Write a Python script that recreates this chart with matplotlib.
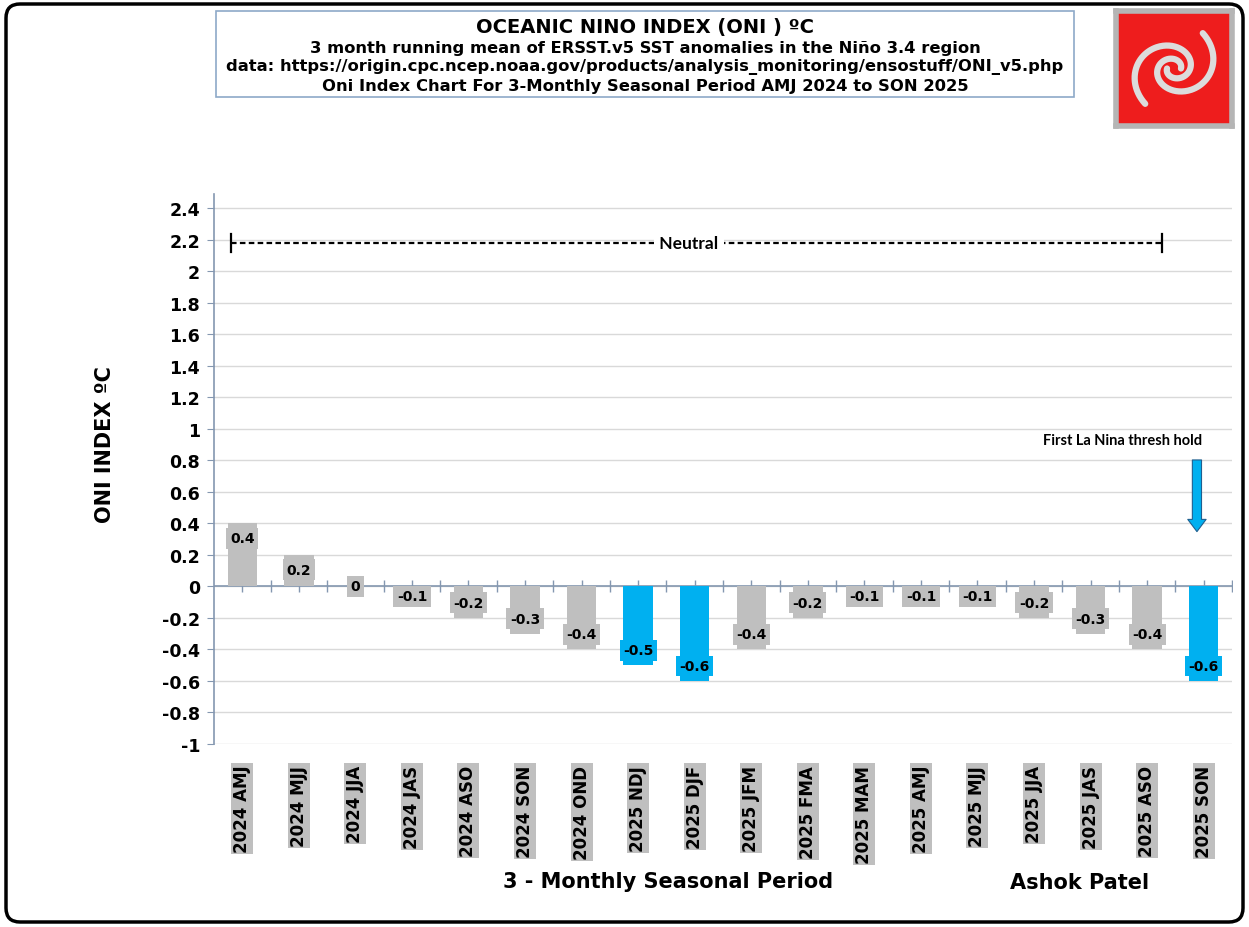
import numpy as np
import matplotlib.pyplot as plt
from matplotlib.patches import Rectangle, FancyBboxPatch

# data
seasons = ['2024 AMJ', '2024 MJJ', '2024 JJA', '2024 JAS', '2024 ASO', '2024 SON',
           '2024 OND', '2025 NDJ', '2025 DJF', '2025 JFM', '2025 FMA', '2025 MAM',
           '2025 AMJ', '2025 MJJ', '2025 JJA', '2025 JAS', '2025 ASO', '2025 SON']
oni = [0.4, 0.2, 0.0, -0.1, -0.2, -0.3, -0.4, -0.5, -0.6, -0.4, -0.2, -0.1,
       -0.1, -0.1, -0.2, -0.3, -0.4, -0.6]
highlight = ['2025 NDJ', '2025 DJF', '2025 SON']
neutral_level = 2.18

gray = '#BFBFBF'
blue = '#00B0F0'
axc = '#8497B0'
colors = [blue if s in highlight else gray for s in seasons]

W, H = 1249, 928
fig = plt.figure(figsize=(W / 100, H / 100), dpi=100)

ax = fig.add_axes([214 / W, 1 - 745 / H, (1232 - 214) / W, (745 - 195) / H])
x = np.arange(len(seasons))
ax.bar(x, oni, width=0.52, color=colors, zorder=3)
ax.set_xlim(-0.5, len(seasons) - 0.5)
ax.set_ylim(-1, 2.49)

yt = np.round(np.arange(-1, 2.41, 0.2), 1)
ax.set_yticks(yt, ['0' if v == 0 else f'{v:g}' for v in yt])
ax.yaxis.grid(True, color='#D9D9D9', lw=1)
ax.set_axisbelow(True)
for s in ['top', 'right', 'bottom']:
    ax.spines[s].set_visible(False)
ax.spines['left'].set_color(axc)
ax.spines['left'].set_linewidth(1.2)
ax.tick_params(axis='y', length=5, color=axc, labelsize=12.5, pad=5)
for lab in ax.get_yticklabels():
    lab.set_fontweight('bold')

ax.set_xticks(x, seasons, rotation=90, va='top')
ax.tick_params(axis='x', length=0, pad=15, labelsize=12)
for lab in ax.get_xticklabels():
    lab.set_fontweight('bold')
    lab.set_bbox(dict(facecolor=gray, edgecolor='none', pad=1.5))

# zero axis with tick marks at centres and between bars
ax.axhline(0, color=axc, lw=1.2, zorder=2)
tk = np.arange(0, len(seasons), 0.5)
ax.plot(tk, np.zeros_like(tk), ls='none', marker='|', ms=8, mew=1, color=axc, zorder=2)

# value labels
for xi, v, c in zip(x, oni, colors):
    if v > 0:
        ly = max(v - 0.095, 0.063)
    elif v < 0:
        ly = min(v + 0.095, -0.063)
    else:
        ly = 0
    ax.text(xi, ly, f'{v:g}', ha='center', va='center', fontsize=10, fontweight='bold',
            bbox=dict(facecolor=c, edgecolor='none', pad=2.5), zorder=4)

# neutral band marker
ax.plot([-0.2, 16.26], [neutral_level, neutral_level], color='black', lw=1.6,
        ls=(0, (2.5, 1.5)), zorder=3)
ax.plot([-0.2, -0.2], [neutral_level - 0.055, neutral_level + 0.055], color='black', lw=1.6, zorder=3)
ax.plot([16.26, 16.26], [neutral_level - 0.055, neutral_level + 0.055], color='black', lw=1.6, zorder=3)
ax.text(7.9, neutral_level, ' Neutral ', ha='center', va='center', fontsize=12.5,
        fontweight='bold', family='Lato', bbox=dict(facecolor='white', edgecolor='none', pad=1), zorder=4)

# la nina threshold note
ax.text(15.57, 0.93, 'First La Nina thresh hold', ha='center', va='center', fontsize=10.5,
        fontweight='bold', family='Lato')
ax.annotate('', xy=(16.88, 0.33), xytext=(16.88, 0.82),
            arrowprops=dict(arrowstyle='simple,head_width=1.2,head_length=0.8,tail_width=0.6',
                            mutation_scale=11, fc=blue, ec='#1F5F8F', lw=0.8))

# axis titles
fig.text(105 / W, 1 - 445 / H, 'ONI INDEX ºC', rotation=90, ha='center', va='center',
         fontsize=15, fontweight='bold')
fig.text(668 / W, 1 - 882 / H, '3 - Monthly Seasonal Period', ha='center', va='center',
         fontsize=15, fontweight='bold')
fig.text(1080 / W, 1 - 883 / H, 'Ashok Patel', ha='center', va='center',
         fontsize=15, fontweight='bold')

# title box
fig.patches.append(Rectangle((216 / W, 1 - 98 / H), (1074 - 216) / W, 86 / H,
                             transform=fig.transFigure, fill=False, ec='#8EA9C8', lw=1.2))
fig.text(645 / W, 1 - 27 / H, 'OCEANIC NINO INDEX (ONI ) ºC', ha='center', va='center',
         fontsize=14, fontweight='bold')
subs = ['3 month running mean of ERSST.v5 SST anomalies in the Niño 3.4 region',
        'data: https://origin.cpc.ncep.noaa.gov/products/analysis_monitoring/ensostuff/ONI_v5.php',
        'Oni Index Chart For 3-Monthly Seasonal Period AMJ 2024 to SON 2025']
for i, t in enumerate(subs):
    fig.text(645 / W, 1 - (48 + 19 * i) / H, t, ha='center', va='center',
             fontsize=11.8, fontweight='bold')

# logo
lg = fig.add_axes([1116 / W, 1 - 127 / H, 116 / W, 115 / H])
lg.set_xlim(-1, 1)
lg.set_ylim(-1, 1)
lg.set_xticks([])
lg.set_yticks([])
lg.set_facecolor('#EE1D1D')
for s in lg.spines.values():
    s.set_color('#B5B5B5')
    s.set_linewidth(4)
th = np.linspace(0, 2.3 * np.pi, 200)
r = 0.12 * np.exp(0.27 * th)
for rot in [0, np.pi]:
    lg.plot(r * np.cos(th + rot), r * np.sin(th + rot) * 0.9, color='#DCDCDC', lw=4.5,
            solid_capstyle='round')

# outer frame
fig.patches.append(FancyBboxPatch((6, 5), 1237, 918, boxstyle='round,pad=0,rounding_size=14',
                                  transform=None, fill=False, ec='black', lw=2.5))

fig.savefig('out.png', dpi=100)
